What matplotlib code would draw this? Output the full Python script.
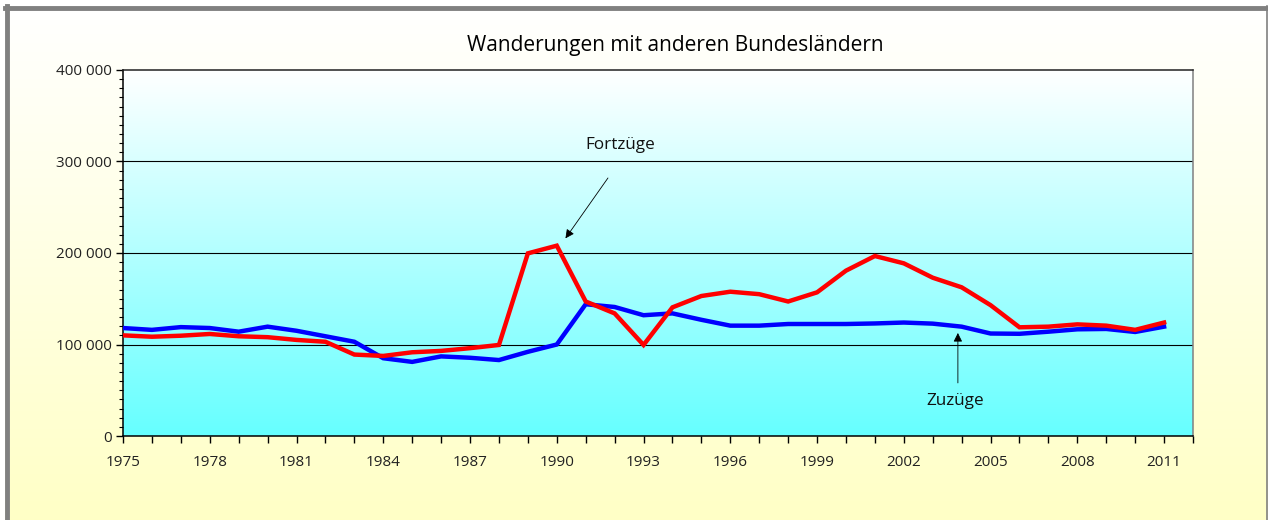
import matplotlib
matplotlib.use("Agg")
import matplotlib.pyplot as plt
import numpy as np
from matplotlib.colors import LinearSegmentedColormap

plt.rcParams['font.family'] = ['Open Sans', 'DejaVu Sans']

years = list(range(1975, 2012))
zuzuege = [118000, 116000, 119000, 118000, 114000, 119500, 115000, 109000, 103000, 85000,
           81000, 87000, 85500, 83000, 92000, 100000, 144000, 141000, 132000, 134000,
           127000, 120600, 120600, 122400, 122400, 122400, 123000, 124000, 122800, 119500,
           112000, 111700, 114000, 116600, 117000, 113700, 119500]
fortzuege = [110000, 108500, 109600, 111500, 109000, 108000, 105000, 103000, 89000, 87500,
             91500, 93000, 96000, 99500, 199600, 208000, 147000, 134000, 99500, 140600,
             153000, 157700, 155000, 147000, 157000, 180700, 196700, 188700, 173000, 162500,
             143000, 118800, 119500, 122000, 120600, 116000, 124000]
title = "Wanderungen mit anderen Bundesländern"
label_fort = "Fortzüge"
label_zu = "Zuzüge"

W, H = 1268, 520
fig = plt.figure(figsize=(W/100, H/100), dpi=100)
fig.patch.set_facecolor('white')

# figure background gradient (white -> light yellow)
bg = fig.add_axes([5/W, 0, 1 - 5/W, 1 - 6/H], zorder=-10)
grad = np.linspace(0, 1, 256).reshape(-1, 1)
cm_bg = LinearSegmentedColormap.from_list('bg', ['#FFFFFF', '#FFFFC6'])
bg.imshow(grad, aspect='auto', cmap=cm_bg, extent=[0, 1, 0, 1], origin='upper')
bg.set_xlim(0, 1); bg.set_ylim(0, 1)
bg.set_xticks([]); bg.set_yticks([])
for s in bg.spines.values():
    s.set_visible(False)
bg.plot([0.0015, 0.0015], [0, 1], color='#808080', lw=3.5, transform=bg.transAxes, clip_on=False)
bg.plot([0, 1], [0.996, 0.996], color='#808080', lw=3.5, transform=bg.transAxes, clip_on=False)
bg.plot([0.9995, 0.9995], [0, 1], color='#808080', lw=1.2, transform=bg.transAxes, clip_on=False)

left, right, top, bottom = 123, 1193, 70, 436
ax = fig.add_axes([left/W, 1 - bottom/H, (right-left)/W, (bottom-top)/H])
cm_ax = LinearSegmentedColormap.from_list('ax', ['#FFFFFF', '#66FFFF'])
ax.imshow(grad, aspect='auto', cmap=cm_ax, extent=[1975, 2012, 0, 400000],
          origin='upper', zorder=0)

ax.plot(years, zuzuege, color='#0000FF', lw=3.2, solid_joinstyle='miter', zorder=3)
ax.plot(years, fortzuege, color='#FF0000', lw=3.2, solid_joinstyle='miter', zorder=4)

ax.set_xlim(1975, 2012)
ax.set_ylim(0, 400000)
for y in [100000, 200000, 300000]:
    ax.axhline(y, color='black', lw=0.8, zorder=1)

ax.set_xticks(list(range(1975, 2013)))
ax.set_xticklabels([str(y) if (y - 1975) % 3 == 0 else '' for y in range(1975, 2013)])
ax.set_yticks([0, 100000, 200000, 300000, 400000])
ax.set_yticklabels(['0', '100 000', '200 000', '300 000', '400 000'])
ax.set_yticks(list(range(0, 400001, 10000)), minor=True)
ax.tick_params(axis='x', direction='out', length=5, width=1, labelsize=11, pad=9,
               colors='black', labelcolor='#222222')
ax.tick_params(axis='y', which='major', direction='out', length=5, width=1, labelsize=11, pad=3,
               labelcolor='#222222')
ax.tick_params(axis='y', which='minor', direction='out', length=3, width=0.8)

ax.spines['left'].set_color('black')
ax.spines['bottom'].set_color('black')
ax.spines['top'].set_color('#222222')
ax.spines['right'].set_color('#808080')
for s in ax.spines.values():
    s.set_linewidth(1.1)

fig.text(675/W, 1 - 45/H, title, ha='center', va='center', fontsize=15, color='black')

ax.annotate('', xy=(1990.3, 216000), xytext=(1991.77, 282000),
            arrowprops=dict(arrowstyle='-|>', color='black', lw=0.6,
                            shrinkA=0, shrinkB=0, mutation_scale=13))
ax.text(1992.2, 318000, label_fort, ha='center', va='center', fontsize=12.3, color='#111111')
ax.annotate('', xy=(2003.87, 112600), xytext=(2003.87, 58000),
            arrowprops=dict(arrowstyle='-|>', color='black', lw=0.6,
                            shrinkA=0, shrinkB=0, mutation_scale=13))
ax.text(2003.77, 38500, label_zu, ha='center', va='center', fontsize=12.3, color='#111111')

fig.savefig('out.png', dpi=100)
